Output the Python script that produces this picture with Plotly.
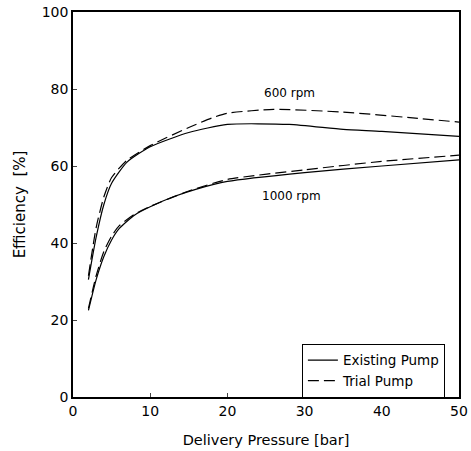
import plotly.graph_objects as go

x_exist_600 = [2, 3, 4, 5, 7, 10, 15, 20, 28, 35, 40, 50]
y_exist_600 = [30.5, 41.5, 50, 55.5, 61, 65, 68.7, 70.8, 70.8, 69.5, 69, 67.7]
x_trial_600 = [2, 3, 4, 5, 7, 10, 15, 18, 20, 26, 35, 44, 50]
y_trial_600 = [31.5, 44, 52, 57, 61.5, 65.3, 70, 72.5, 73.7, 74.7, 74, 72.5, 71.4]
x_exist_1000 = [2, 3, 4, 5, 6, 8, 10, 13, 16, 20, 30, 40, 50]
y_exist_1000 = [22.5, 30.5, 36.5, 40.8, 43.8, 47.3, 49.4, 52, 54, 56, 58.3, 60, 61.6]
x_trial_1000 = [2, 3, 4, 5, 6, 8, 10, 15, 20, 30, 40, 50]
y_trial_1000 = [23, 31.5, 37.8, 41.8, 44.5, 47.5, 49.5, 53.5, 56.5, 59, 61.2, 62.8]

xticks = [0, 10, 20, 30, 40, 50]
yticks = [0, 20, 40, 60, 80, 100]

font = "DejaVu Sans, Arial, sans-serif"
fig = go.Figure()
line_solid = dict(color="black", width=1.2, shape="spline", smoothing=0.6)
line_dash = dict(color="black", width=1.2, shape="spline", smoothing=0.6, dash="11px,5px")

fig.add_trace(go.Scatter(x=x_exist_600, y=y_exist_600, mode="lines", line=line_solid,
                         name="Existing Pump", legendgroup="e", showlegend=True))
fig.add_trace(go.Scatter(x=x_trial_600, y=y_trial_600, mode="lines", line=line_dash,
                         name="Trial Pump", legendgroup="t", showlegend=True))
fig.add_trace(go.Scatter(x=x_exist_1000, y=y_exist_1000, mode="lines", line=line_solid,
                         name="Existing Pump", legendgroup="e", showlegend=False))
fig.add_trace(go.Scatter(x=x_trial_1000, y=y_trial_1000, mode="lines", line=line_dash,
                         name="Trial Pump", legendgroup="t", showlegend=False))

fig.add_annotation(x=28.1, y=79, text="600 rpm", showarrow=False, font=dict(size=12, color="black", family=font))
fig.add_annotation(x=28.3, y=52.1, text="1000 rpm", showarrow=False, font=dict(size=12, color="black", family=font))

fig.update_layout(
    width=471, height=451,
    margin=dict(l=73, r=12, t=12, b=54),
    plot_bgcolor="white", paper_bgcolor="white",
    font=dict(family=font, size=14, color="black"),
    legend=dict(x=0.593, y=0.138, xanchor="left", yanchor="top",
                bordercolor="black", borderwidth=1, bgcolor="white",
                font=dict(size=13.5), tracegroupgap=0, itemwidth=30),
    xaxis=dict(range=[0, 50], tickvals=xticks, ticks="inside", ticklen=4,
               showline=True, linecolor="black", linewidth=1.5, mirror=True,
               showgrid=False, zeroline=False, automargin=False,
               title=dict(text="Delivery Pressure [bar]", font=dict(size=14.5), standoff=17)),
    yaxis=dict(range=[0, 100], tickvals=yticks, ticks="inside", ticklen=4,
               showline=True, linecolor="black", linewidth=1.5, mirror=True,
               showgrid=False, zeroline=False, automargin=False,
               title=dict(text="Efficiency  [%]", font=dict(size=15), standoff=12)),
)

fig.write_html("out.html", config={"displayModeBar": False},
               post_script="document.body.style.margin='0';document.body.style.overflow='hidden';")
